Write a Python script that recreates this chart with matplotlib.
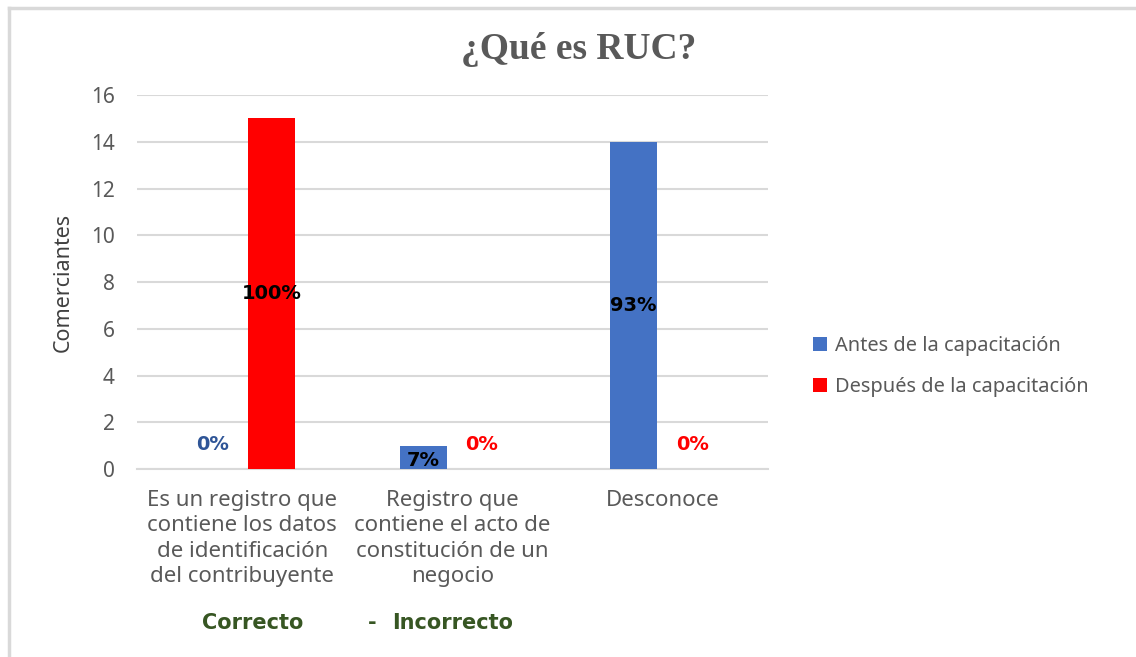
import matplotlib.pyplot as plt
import numpy as np

# data
categorias = ['Es un registro que\ncontiene los datos\nde identificación\ndel contribuyente',
              'Registro que\ncontiene el acto de\nconstitución de un\nnegocio',
              'Desconoce']
antes = [0, 1, 14]
despues = [15, 0, 0]
etiq_antes = ['0%', '7%', '93%']
etiq_despues = ['100%', '0%', '0%']

plt.rcParams['font.family'] = ['Noto Sans', 'DejaVu Sans']

gris = '#595959'
azul = '#4472C4'
rojo = '#FF0000'
negrita = 'DejaVu Sans'

fig = plt.figure(figsize=(11.36, 6.57), dpi=100)
ax = fig.add_axes([0.1206, 0.2861, 0.5555, 0.5693])

x = np.arange(len(categorias))
w = 0.224
off = 0.14
ax.bar(x - off, antes, w, color=azul, label='Antes de la capacitación', zorder=3)
ax.bar(x + off, despues, w, color=rojo, label='Después de la capacitación', zorder=3)

# etiquetas de datos
fs_dat = 14
for i in range(len(x)):
    if antes[i] == 0:
        ax.text(x[i] - off, 1.05, etiq_antes[i], ha='center', va='center',
                color='#2F5597', fontsize=fs_dat, fontweight='bold', family=negrita)
    else:
        ax.text(x[i] - off, antes[i] / 2 if antes[i] > 2 else 0.35, etiq_antes[i],
                ha='center', va='center', color='black', fontsize=fs_dat, fontweight='bold',
                family=negrita, zorder=4)
    if despues[i] == 0:
        ax.text(x[i] + off, 1.05, etiq_despues[i], ha='center', va='center',
                color=rojo, fontsize=fs_dat, fontweight='bold', family=negrita)
    else:
        ax.text(x[i] + off, despues[i] / 2, etiq_despues[i], ha='center', va='center',
                color='black', fontsize=fs_dat, fontweight='bold', family=negrita, zorder=4)

ax.set_xlim(-0.5, 2.5)
ax.set_ylim(0, 16)
ax.set_yticks(range(0, 17, 2))
ax.set_xticks(x)
ax.set_xticklabels(categorias, fontsize=16, color=gris, linespacing=1.27)
ax.tick_params(axis='y', labelsize=15, labelcolor=gris, length=0, pad=16)
ax.tick_params(axis='x', length=0, pad=15)
ax.grid(axis='y', color='#D9D9D9', linewidth=1.5, zorder=0)
for s in ['top', 'right', 'left']:
    ax.spines[s].set_visible(False)
ax.spines['bottom'].set_color('#D9D9D9')
ax.spines['bottom'].set_linewidth(1.5)
ax.set_ylabel('Comerciantes', fontsize=15.5, color='#404040', labelpad=12)

fig.text(0.509, 0.925, '¿Qué es RUC?', ha='center', va='center', fontsize=27,
         fontweight='bold', color=gris, family='Liberation Serif')

verde = '#375623'
fig.text(0.2223, 0.052, 'Correcto', ha='center', va='center', fontsize=15, fontweight='bold', color=verde, family=negrita)
fig.text(0.3275, 0.052, '-', ha='center', va='center', fontsize=15, fontweight='bold', color=verde, family=negrita)
fig.text(0.3983, 0.052, 'Incorrecto', ha='center', va='center', fontsize=15, fontweight='bold', color=verde, family=negrita)

ax.legend(loc='center left', bbox_to_anchor=(0.700, 0.442), bbox_transform=fig.transFigure,
          frameon=False, fontsize=14.4, labelcolor=gris, handlelength=0.7, handleheight=0.7,
          handletextpad=0.4, labelspacing=1.05)

# marco del gráfico
fig.add_artist(plt.Line2D([0.0075, 0.0075], [0, 0.988], transform=fig.transFigure, color='#D9D9D9', lw=2.5))
fig.add_artist(plt.Line2D([0.0075, 1], [0.988, 0.988], transform=fig.transFigure, color='#D9D9D9', lw=2.5))

fig.savefig('out.png', dpi=100)
